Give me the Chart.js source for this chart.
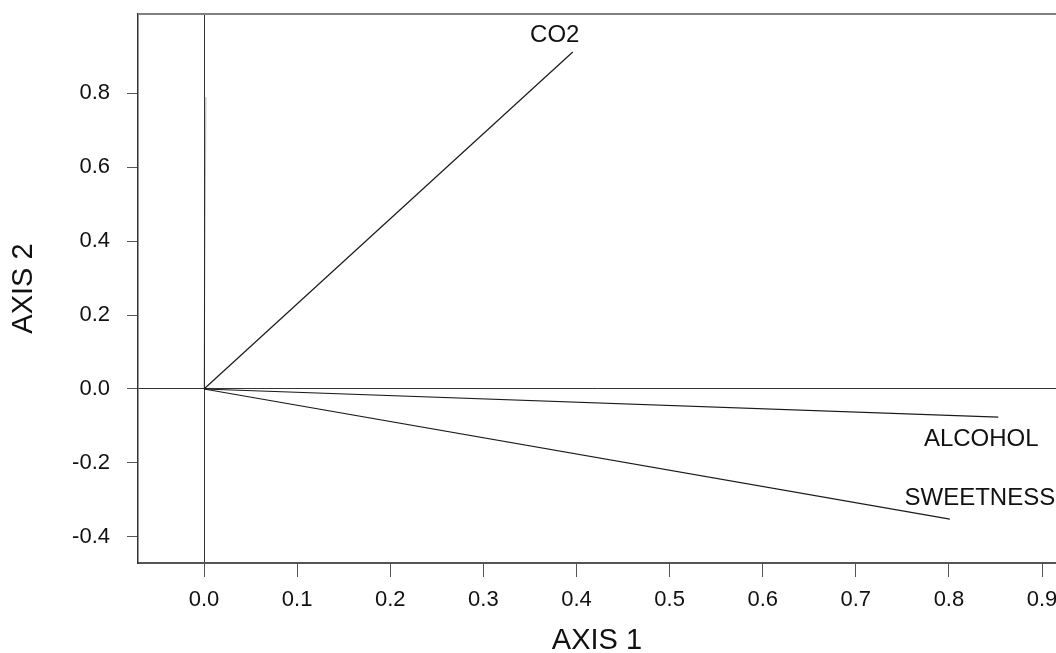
<!DOCTYPE html>
<html>
<head>
<meta charset="utf-8">
<script src="https://cdn.jsdelivr.net/npm/chart.js@4/dist/chart.umd.min.js"></script>
<style>
  html, body { margin: 0; padding: 0; background: #fff; }
  #wrap { width: 1056px; height: 653px; }
</style>
</head>
<body>
<div id="wrap"><canvas id="biplot" width="1056" height="653"></canvas></div>
<script>
// Loadings of each variable on the two ordination axes.
const VARIABLES = ['CO2', 'ALCOHOL', 'SWEETNESS', ''];
const AXIS1_LOADINGS = [0.396, 0.853, 0.801, 0.002];
const AXIS2_LOADINGS = [0.912, -0.076, -0.352, 0.79];

const X_TICKS = [0.0, 0.1, 0.2, 0.3, 0.4, 0.5, 0.6, 0.7, 0.8, 0.9];
const Y_TICKS = [-0.4, -0.2, 0.0, 0.2, 0.4, 0.6, 0.8];

const FONT = "'Liberation Sans', Arial, sans-serif";
const INK = '#111';
const AXIS_GREY = '#555';

// Pixel nudges for the vector labels, relative to each arrow tip.
const LABEL_NUDGE = [[-18, -17], [-17, 22], [30, -21], null];
const VECTOR_COLORS = ['#1a1a1a', '#1a1a1a', '#1a1a1a', 'rgba(0,0,0,0.25)'];

const datasets = VARIABLES.map((name, i) => ({
  label: name,
  data: [{ x: 0, y: 0 }, { x: AXIS1_LOADINGS[i], y: AXIS2_LOADINGS[i] }],
  showLine: true,
  borderColor: VECTOR_COLORS[i],
  borderWidth: 1.2,
  pointRadius: 0,
  fill: false
}));

const zeroLine = (ctx) => (ctx.tick && ctx.tick.value === 0 ? '#333' : 'rgba(0,0,0,0)');

const vectorLabels = {
  id: 'vectorLabels',
  afterDatasetsDraw(chart) {
    const { ctx, scales } = chart;
    ctx.save();
    ctx.fillStyle = INK;
    ctx.font = `24px ${FONT}`;
    ctx.textAlign = 'center';
    ctx.textBaseline = 'middle';
    VARIABLES.forEach((name, i) => {
      if (!name || !LABEL_NUDGE[i]) return;
      const px = scales.x.getPixelForValue(AXIS1_LOADINGS[i]) + LABEL_NUDGE[i][0];
      const py = scales.y.getPixelForValue(AXIS2_LOADINGS[i]) + LABEL_NUDGE[i][1];
      ctx.fillText(name, px, py);
    });
    ctx.restore();
  }
};

// Top edge of the frame (bottom/left come from the axis borders).
const frameTop = {
  id: 'frameTop',
  afterDraw(chart) {
    const { ctx, chartArea } = chart;
    ctx.save();
    ctx.strokeStyle = '#808080';
    ctx.lineWidth = 2;
    ctx.beginPath();
    ctx.moveTo(chartArea.left, chartArea.top);
    ctx.lineTo(chartArea.right, chartArea.top);
    ctx.stroke();
    ctx.restore();
  }
};

new Chart(document.getElementById('biplot'), {
  type: 'scatter',
  data: { datasets },
  options: {
    responsive: false,
    animation: false,
    devicePixelRatio: 1,
    layout: { padding: { top: 14, right: 0, left: 0, bottom: 0 } },
    plugins: { legend: { display: false }, tooltip: { enabled: false } },
    scales: {
      x: {
        type: 'linear',
        min: -0.0709,
        max: 0.915,
        afterBuildTicks: (s) => { s.ticks = X_TICKS.map((value) => ({ value })); },
        afterFit: (s) => { s.height = 90; s.paddingLeft = 0; s.paddingRight = 0; },
        ticks: {
          callback: (v) => Number(v).toFixed(1),
          color: INK,
          font: { family: FONT, size: 22 },
          padding: 10,
          maxRotation: 0,
          autoSkip: false
        },
        grid: { color: zeroLine, tickColor: AXIS_GREY, tickLength: 14, lineWidth: 1 },
        border: { color: AXIS_GREY, width: 2 },
        title: {
          display: true,
          text: 'AXIS 1',
          color: INK,
          font: { family: FONT, size: 29, lineHeight: 1 },
          padding: { top: 0, bottom: -2 }
        }
      },
      y: {
        type: 'linear',
        min: -0.471,
        max: 1.015,
        afterBuildTicks: (s) => { s.ticks = Y_TICKS.map((value) => ({ value })); },
        afterFit: (s) => { s.width = 138; s.paddingTop = 0; s.paddingBottom = 0; },
        ticks: {
          callback: (v) => Number(v).toFixed(1),
          color: INK,
          font: { family: FONT, size: 22 },
          padding: 17,
          autoSkip: false
        },
        grid: { color: zeroLine, tickColor: AXIS_GREY, tickLength: 11, lineWidth: 1 },
        border: { color: '#333', width: 1.5 },
        title: {
          display: true,
          text: 'AXIS 2',
          color: INK,
          font: { family: FONT, size: 29, lineHeight: 1 },
          padding: { top: 9, bottom: 0 }
        }
      }
    }
  },
  plugins: [vectorLabels, frameTop]
});
</script>
</body>
</html>
